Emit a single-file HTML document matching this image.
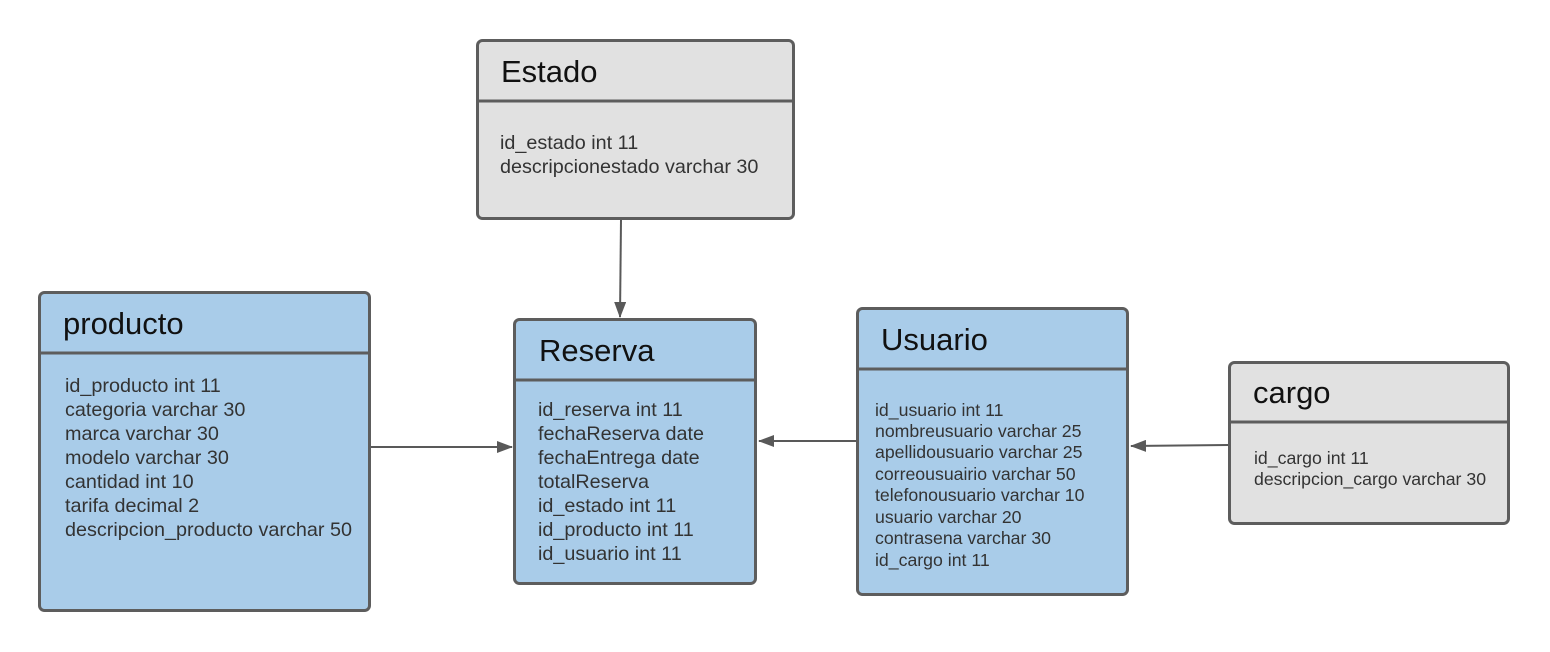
<!DOCTYPE html>
<html><head><meta charset="utf-8"><style>
html,body{margin:0;padding:0;background:#fff;width:1550px;height:652px;overflow:hidden}
text{font-family:"Liberation Sans",sans-serif;fill:#333}
.t{font-size:31px;fill:#111}
.f{font-size:19.8px}
.s{font-size:17.7px}
</style></head><body>
<svg width="1550" height="652" xmlns="http://www.w3.org/2000/svg">
<defs>
<marker id="a" markerWidth="16" markerHeight="12" refX="15" refY="6" orient="auto" markerUnits="userSpaceOnUse">
<path d="M0,0 L16,6 L0,12 Z" fill="#595959"/></marker>
</defs>
<g stroke="#5d5d5d" stroke-width="3">
<rect x="477.5" y="40.5" width="316" height="178" rx="5" fill="#e1e1e1"/>
<line x1="477" y1="101" x2="794" y2="101"/>
<rect x="39.5" y="292.5" width="330" height="318" rx="5" fill="#a9cce9"/>
<line x1="39" y1="353" x2="370" y2="353"/>
<rect x="514.5" y="319.5" width="241" height="264" rx="5" fill="#a9cce9"/>
<line x1="514" y1="380" x2="756" y2="380"/>
<rect x="857.5" y="308.5" width="270" height="286" rx="5" fill="#a9cce9"/>
<line x1="857" y1="369" x2="1128" y2="369"/>
<rect x="1229.5" y="362.5" width="279" height="161" rx="5" fill="#e1e1e1"/>
<line x1="1229" y1="422" x2="1509" y2="422"/>
</g>
<g stroke="#595959" stroke-width="2" fill="none">
<line x1="621" y1="220" x2="620" y2="317" marker-end="url(#a)"/>
<line x1="371" y1="447" x2="512" y2="447" marker-end="url(#a)"/>
<line x1="856" y1="441" x2="759" y2="441" marker-end="url(#a)"/>
<line x1="1228" y1="445" x2="1131" y2="446" marker-end="url(#a)"/>
</g>
<text class="t" x="501" y="82">Estado</text>
<text class="f" x="500" y="149">id_estado int 11</text>
<text class="f" x="500" y="173">descripcionestado varchar 30</text>
<text class="t" x="63" y="334">producto</text>
<text class="f" x="65" y="392">id_producto int 11</text>
<text class="f" x="65" y="416">categoria varchar 30</text>
<text class="f" x="65" y="440">marca varchar 30</text>
<text class="f" x="65" y="464">modelo varchar 30</text>
<text class="f" x="65" y="488">cantidad int 10</text>
<text class="f" x="65" y="512">tarifa decimal 2</text>
<text class="f" x="65" y="536">descripcion_producto varchar 50</text>
<text class="t" x="539" y="361">Reserva</text>
<text class="f" x="538" y="416">id_reserva int 11</text>
<text class="f" x="538" y="440">fechaReserva date</text>
<text class="f" x="538" y="464">fechaEntrega date</text>
<text class="f" x="538" y="488">totalReserva</text>
<text class="f" x="538" y="512">id_estado int 11</text>
<text class="f" x="538" y="536">id_producto int 11</text>
<text class="f" x="538" y="560">id_usuario int 11</text>
<text class="t" x="881" y="350">Usuario</text>
<text class="s" x="875" y="416">id_usuario int 11</text>
<text class="s" x="875" y="437">nombreusuario varchar 25</text>
<text class="s" x="875" y="458">apellidousuario varchar 25</text>
<text class="s" x="875" y="480">correousuairio varchar 50</text>
<text class="s" x="875" y="501">telefonousuario varchar 10</text>
<text class="s" x="875" y="523">usuario varchar 20</text>
<text class="s" x="875" y="544">contrasena varchar 30</text>
<text class="s" x="875" y="566">id_cargo int 11</text>
<text class="t" x="1253" y="403">cargo</text>
<text class="s" x="1254" y="464">id_cargo int 11</text>
<text class="s" x="1254" y="485">descripcion_cargo varchar 30</text>
</svg>
</body></html>
